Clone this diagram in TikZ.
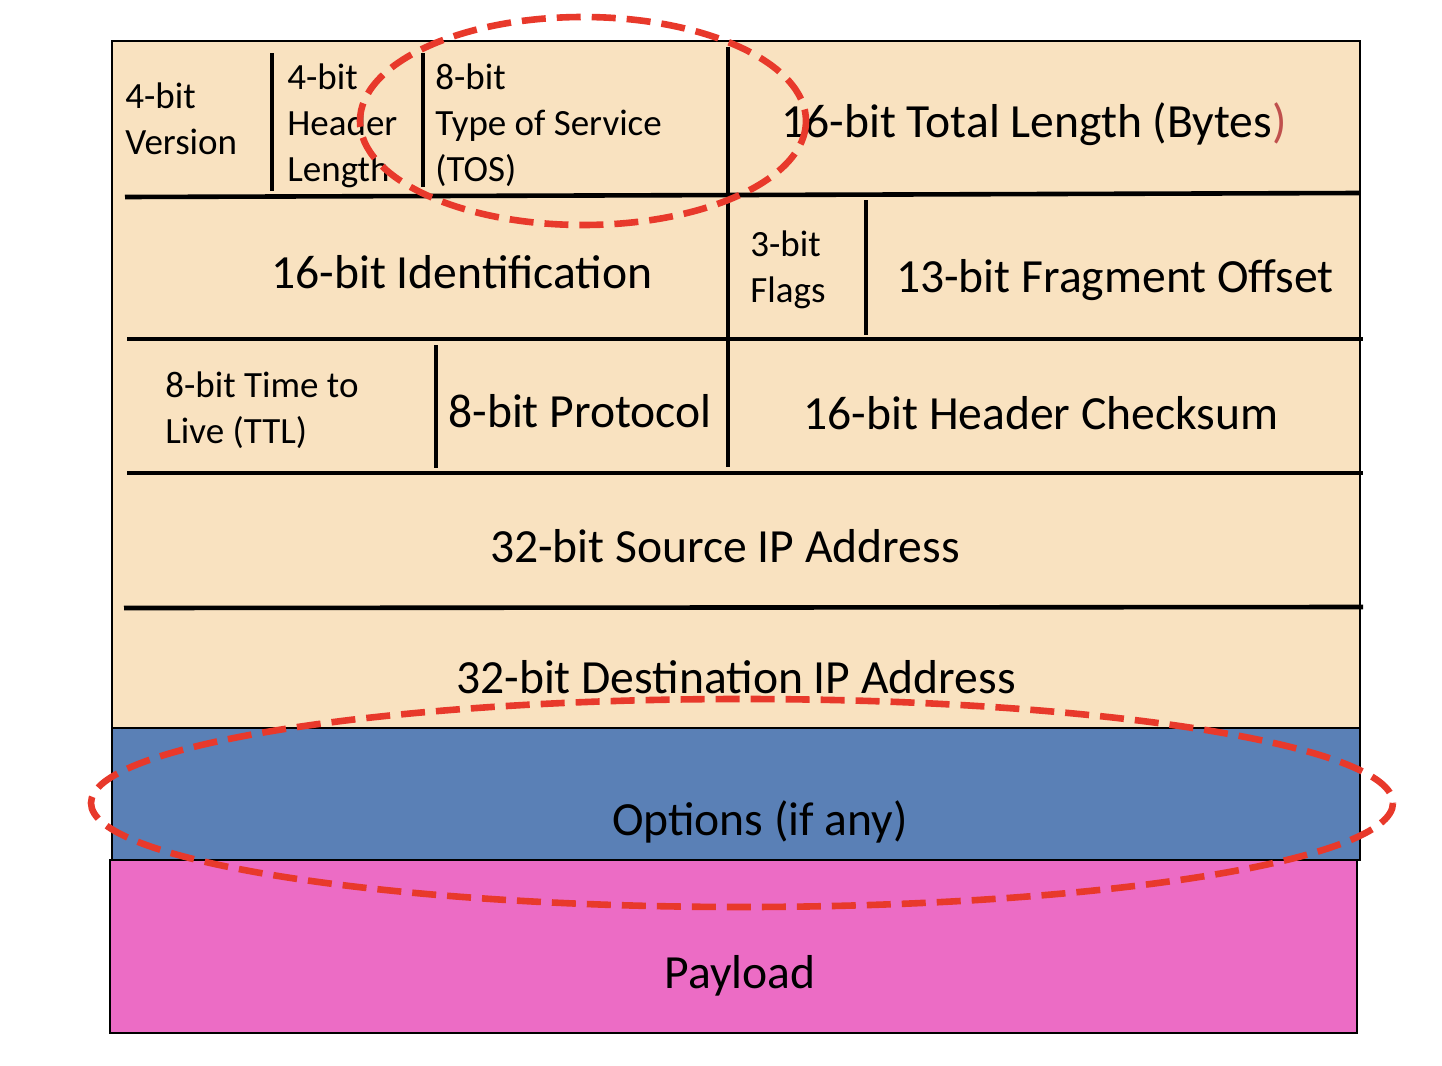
\documentclass[tikz,border=0pt]{standalone}
\usepackage{fontspec}
\setmainfont{Carlito}
\definecolor{beige}{HTML}{F9E2C0}
\definecolor{optblue}{HTML}{5A80B6}
\definecolor{paypink}{HTML}{EC6CC5}
\definecolor{hired}{HTML}{E8392B}
\definecolor{parenred}{HTML}{C0504D}
\begin{document}
\begin{tikzpicture}[x=0.5pt,y=-0.5pt,
  sep/.style={line width=2.3pt,black},
  bigtxt/.style={inner sep=0pt,font=\fontsize{23.8pt}{28pt}\selectfont},
  smalltxt/.style={inner sep=0pt,align=left,font=\fontsize{18.5pt}{23pt}\selectfont},
  hilite/.style={draw=hired,line width=3.3pt,dash pattern=on 12pt off 5.5pt}]
\useasboundingbox (0,0) rectangle (1442,1066);
% boxes
\draw[fill=beige,line width=1pt] (112,41) rectangle (1360,728);
\draw[fill=optblue,line width=1pt] (112,728) rectangle (1360,860);
\draw[fill=paypink,line width=1pt] (110,860) rectangle (1357,1033);
% row separators
\draw[sep] (125,197) -- (1360,193);
\draw[sep] (127,339) -- (1363,339);
\draw[sep] (127,473) -- (1363,473);
\draw[sep] (124,608) -- (1363,607);
% verticals
\draw[sep] (272,53) -- (272,191);
\draw[sep] (423,53) -- (423,187);
\draw[sep] (728,47) -- (728,467);
\draw[sep] (866,200) -- (866,335);
\draw[sep] (436,345) -- (436,468);
% texts (multi-line nodes: base = last line)
\node[smalltxt,anchor=base west] (ver) at (125,154) {4-bit\\Version};
\node[smalltxt,anchor=base west] (hl) at (287,181) {4-bit\\Header\\Length};
\node[smalltxt,anchor=base west] (tos) at (435,181) {8-bit\\Type of Service\\(TOS)};
\node[bigtxt,anchor=base west] (tl) at (781,137) {16-bit Total Length (Bytes\textcolor{parenred}{)}};
\node[bigtxt,anchor=base] (id) at (462,288) {16-bit Identification};
\node[smalltxt,anchor=base west] (fl) at (750,302) {3-bit\\Flags};
\node[bigtxt,anchor=base] (fo) at (1115,292) {13-bit Fragment Offset};
\node[smalltxt,anchor=base west] (ttl) at (165,443) {8-bit Time to\\Live (TTL)};
\node[bigtxt,anchor=base] (pr) at (580,427) {8-bit Protocol};
\node[bigtxt,anchor=base] (ck) at (1041,429) {16-bit Header Checksum};
\node[bigtxt,anchor=base] (src) at (725,562) {32-bit Source IP Address};
\node[bigtxt,anchor=base] (dst) at (736,693) {32-bit Destination IP Address};
\node[bigtxt,anchor=base] (opt) at (760,835) {Options (if any)};
\node[bigtxt,anchor=base] (pay) at (740,988) {Payload};
% highlight ellipses
\draw[hilite] (583,121) ellipse [x radius=223, y radius=104];
\draw[hilite] (742,803) ellipse [x radius=651, y radius=104];
\end{tikzpicture}
\end{document}
